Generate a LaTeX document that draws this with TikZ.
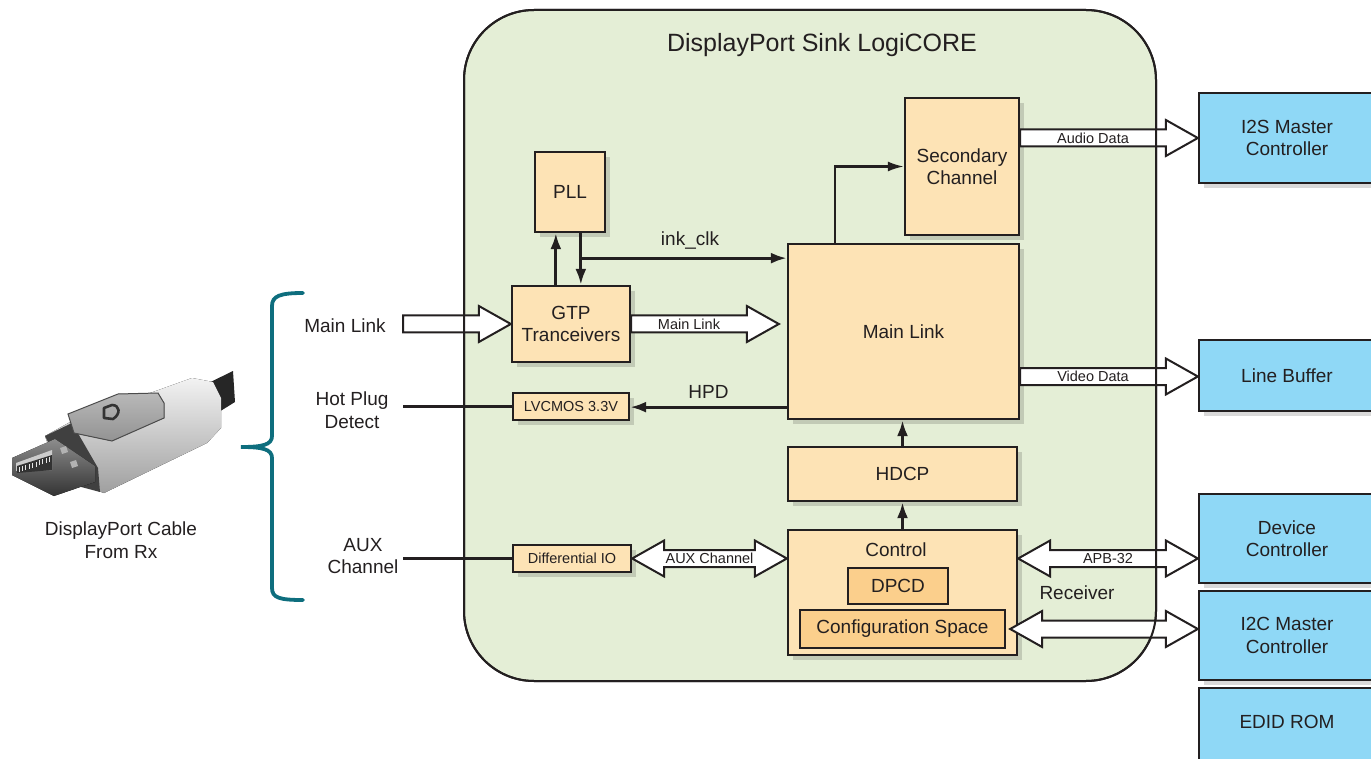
\documentclass[tikz,border=0pt]{standalone}
\usepackage{fontspec}
\setmainfont{Liberation Sans}
\usetikzlibrary{calc,arrows.meta,shadows}
\definecolor{corefill}{HTML}{E4EED6}
\definecolor{boxfill}{HTML}{FDE3B5}
\definecolor{dpcdfill}{HTML}{FBCF8C}
\definecolor{bluefill}{HTML}{8FD8F6}
\definecolor{braceteal}{HTML}{0E6E7E}
\definecolor{ink}{HTML}{231F20}
\newcommand\fbig{\fontsize{19}{22.5}\selectfont}
\newcommand\fsmall{\fontsize{14.5}{17}\selectfont}
\newcommand\ftitle{\fontsize{25}{30}\selectfont}
\newcommand\blockarrow[3]{%
 \draw[barrow] let \p1=#1, \p2=#2 in
  (\x1,{\y1+8.5pt}) -- ({\x2-32pt},{\y1+8.5pt}) -- ({\x2-32pt},{\y1+18pt}) -- (\x2,\y1)
  -- ({\x2-32pt},{\y1-18pt}) -- ({\x2-32pt},{\y1-8.5pt}) -- (\x1,{\y1-8.5pt}) -- cycle;
 \path let \p1=#1, \p2=#2 in node[alabel] at ({0.5*\x1+0.5*\x2-16pt},\y1) {#3};}
\newcommand\dblarrow[3]{%
 \draw[barrow] let \p1=#1, \p2=#2 in
  (\x1,\y1) -- ({\x1+32pt},{\y1+18pt}) -- ({\x1+32pt},{\y1+8.5pt}) -- ({\x2-32pt},{\y1+8.5pt})
  -- ({\x2-32pt},{\y1+18pt}) -- (\x2,\y1) -- ({\x2-32pt},{\y1-18pt}) -- ({\x2-32pt},{\y1-8.5pt})
  -- ({\x1+32pt},{\y1-8.5pt}) -- ({\x1+32pt},{\y1-18pt}) -- cycle;
 \path let \p1=#1, \p2=#2 in node[alabel] at ({0.5*\x1+0.5*\x2},\y1) {#3};}
\begin{document}
\begin{tikzpicture}[x=1pt,y=-1pt,
  core/.style={draw=ink, line width=2pt, fill=corefill, rounded corners=70pt,
    minimum width=692pt, minimum height=671pt, inner sep=0pt},
  box/.style={draw=ink, line width=2.3pt, fill=boxfill, inner sep=0pt, font=\fbig,
    text=ink, align=center,
    drop shadow={shadow xshift=5pt, shadow yshift=-5pt, opacity=0.15, fill=black}},
  smallbox/.style={box, font=\fsmall},
  innerbox/.style={draw=ink, line width=2.3pt, fill=dpcdfill, inner sep=0pt, font=\fbig, text=ink},
  bluebox/.style={draw=ink, line width=2.3pt, fill=bluefill, inner sep=0pt, font=\fbig,
    text=ink, align=center,
    drop shadow={shadow xshift=5pt, shadow yshift=-5pt, opacity=0.15, fill=black}},
  txt/.style={font=\fbig, text=ink, align=center, inner sep=0pt},
  alabel/.style={font=\fsmall, text=ink, inner sep=0pt},
  barrow/.style={draw=ink, line width=2pt, fill=white, line join=miter},
  wire/.style={draw=ink, line width=3pt},
  arr/.style={draw=ink, line width=3pt, -{Latex[length=16pt,width=11pt]}},
  thinarr/.style={draw=ink, line width=2.3pt, -{Latex[length=16pt,width=10pt]}},
  brace/.style={draw=braceteal, line width=3.8pt, line cap=round}
]
\useasboundingbox (0,0) rectangle (1371,759);

% ---- DisplayPort plug picture ----
\fill[black!85] (188,393) -- (233,371) -- (235,402) -- (206,420) -- cycle;
\fill[top color=white!90!gray, bottom color=gray!75] (45,436) -- (72,421) -- (192,378) -- (213,382)
  -- (221,398) -- (221,428) -- (207,443) -- (104,493) -- (60,478) -- cycle;
\fill[black!75] (45,436) -- (72,423) -- (98,468) -- (100,492) -- (70,484) -- cycle;
\fill[top color=gray!55, bottom color=gray!85] (68,414) -- (118,394) -- (158,393) -- (164,403)
  -- (164,418) -- (112,441) -- (74,433) -- cycle;
\draw[black!70, line width=1pt] (68,414) -- (118,394) -- (158,393) -- (164,403) -- (164,418) -- (112,441) -- (74,433) -- cycle;
\draw[black!80, line width=2.6pt, line join=round] (104,418) -- (104,408) -- (112,405) .. controls (120,405) and (121,414) .. (113,419) -- cycle;
\fill[top color=black!45, bottom color=black!80] (12,458) -- (55,439) -- (95,466) -- (95,482) -- (54,496) -- (12,475) -- cycle;
\fill[black!20] (16,463) -- (52,450) -- (52,470) -- (16,471) -- cycle;
\fill[black!80] (17,466) -- (52,455) -- (52,470) -- (17,473) -- cycle;
\foreach \i in {0,...,9} {\draw[white!80!gray, line width=0.8pt] (19+3.4*\i,{472-1.1*\i}) -- (19+3.4*\i,{467-1.1*\i});}
\fill[gray!60] (60,448) -- (66,446) -- (68,452) -- (62,454) -- cycle;
\fill[gray!60] (70,462) -- (76,460) -- (78,466) -- (72,468) -- cycle;
\node[txt] (cablelbl) at (121,540) {DisplayPort Cable\\From Rx};

% ---- brace and left labels ----
\draw[brace] (303,293) .. controls (280,293) and (272,296) .. (272,306) -- (272,436)
  .. controls (272,445) and (262,447) .. (241,447) .. controls (262,447) and (272,449) .. (272,458)
  -- (272,588) .. controls (272,598) and (280,600) .. (303,600);
\node[txt] (lmain) at (345,326) {Main Link};
\node[txt] (lhpd) at (352,410) {Hot Plug\\Detect};
\node[txt] (laux) at (363,556) {AUX\\Channel};

% ---- container ----
\node[core] (core) at (810,345.5) {};
\node[font=\ftitle, text=ink, inner sep=0pt] (title) at (822,45) {DisplayPort Sink LogiCORE};

% ---- inner blocks ----
\node[box, minimum width=70pt, minimum height=80pt] (pll) at (570,192) {PLL};
\node[box, minimum width=118pt, minimum height=76pt] (gtp) at (571,324) {GTP\\Tranceivers};
\node[smallbox, minimum width=116pt, minimum height=27pt] (lv) at (571,406.5) {LVCMOS 3.3V};
\node[smallbox, minimum width=118pt, minimum height=27pt] (dio) at (572,558.5) {Differential IO};
\node[box, minimum width=231pt, minimum height=175pt] (main) at (903.5,331.5) {Main Link};
\node[box, minimum width=114pt, minimum height=137pt] (sec) at (962,166.5) {Secondary\\Channel};
\node[box, minimum width=229pt, minimum height=54pt] (hdcp) at (902.5,474) {HDCP};
\node[box, minimum width=229pt, minimum height=125pt] (ctrl) at (902.5,592.5) {};
\node[txt] (ctrltxt) at (896,550) {Control};
\node[innerbox, minimum width=100pt, minimum height=36pt] (dpcd) at (898,586) {DPCD};
\node[innerbox, minimum width=205pt, minimum height=38pt] (cfg) at (902.5,629) {Configuration Space};
\node[txt] (recv) at (1077,593) {Receiver};

% ---- external blue blocks ----
\node[bluebox, minimum width=176pt, minimum height=90pt] (i2s) at (1287,138) {I2S Master\\Controller};
\node[bluebox, minimum width=176pt, minimum height=71pt] (lb) at (1287,375.5) {Line Buffer};
\node[bluebox, minimum width=176pt, minimum height=89pt] (dev) at (1287,538.5) {Device\\Controller};
\node[bluebox, minimum width=176pt, minimum height=89pt] (i2c) at (1287,635.5) {I2C Master\\Controller};
\node[bluebox, minimum width=176pt, anchor=north, text height=40pt, text depth=62pt] (edid) at (1287,687) {EDID ROM};

% ---- free ends ----
\coordinate (mlin) at (403,324);
\coordinate (hpdin) at (403,406.5);
\coordinate (auxin) at (403,558.5);

% ---- thin connectors ----
\draw[wire] (hpdin) -- (lv.west);
\draw[wire] (auxin) -- (dio.west);
\draw[arr] ([xshift=45pt]gtp.north west) -- ([xshift=45pt]gtp.north west |- pll.south);
\draw[arr] ([xshift=47pt]pll.south west) -- ([xshift=47pt]pll.south west |- gtp.north);
\draw[arr] ([xshift=47pt,yshift=-25pt]pll.south west) -- node[txt, above=7pt, pos=0.53] (clklbl) {ink\_clk} ([yshift=-25pt]pll.south -| main.west);
\draw[arr] ([yshift=13pt]main.south west) -- node[txt, above=7pt, pos=0.5] (hpdlbl) {HPD} ([yshift=13pt]main.south west -| lv.east);
\draw[thinarr] ([xshift=48pt]main.north west) |- (sec.west);
\draw[arr] (hdcp.north) -- (hdcp.north |- main.south);
\draw[arr] (ctrl.north) -- (hdcp.south);

% ---- block arrows ----
\blockarrow{(mlin)}{(gtp.west)}{}
\blockarrow{(gtp.east)}{([xshift=-8pt]gtp.east -| main.west)}{Main Link}
\blockarrow{(i2s.west -| sec.east)}{(i2s.west)}{Audio Data}
\blockarrow{([yshift=-1pt]lb.west -| main.east)}{([yshift=-1pt]lb.west)}{Video Data}
\dblarrow{(dio.east)}{(dio.east -| ctrl.west)}{AUX Channel}
\dblarrow{([yshift=34pt]ctrl.east)}{([yshift=34pt]ctrl.east -| dev.west)}{APB-32}
\dblarrow{([xshift=4pt]cfg.east)}{(cfg.east -| i2c.west)}{}

% container border over the arrow shafts
\node[core, fill=none] (coreborder) at (810,345.5) {};
\end{tikzpicture}
\end{document}
